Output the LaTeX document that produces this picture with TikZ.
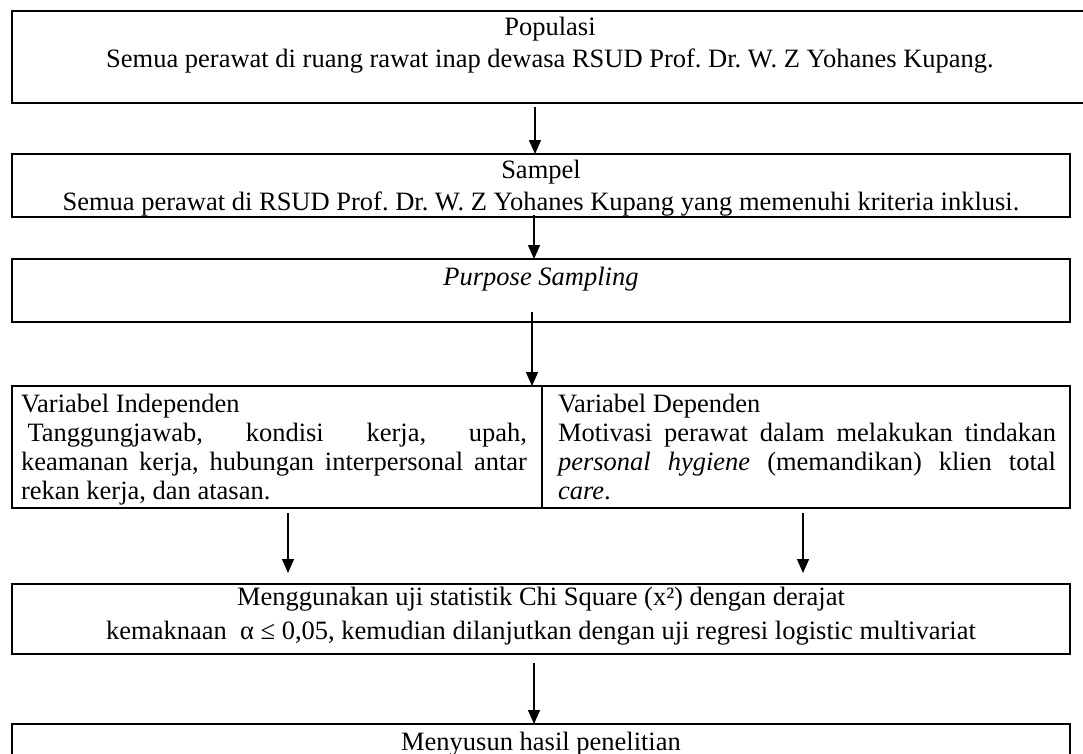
\documentclass[tikz,border=0pt]{standalone}
\usepackage{fontspec}
\setmainfont{Liberation Serif}
\usetikzlibrary{arrows.meta}
\frenchspacing
\tikzset{
  box/.style={draw=black, line width=2pt, rectangle, inner sep=0pt, outer sep=0pt, anchor=north west},
  txt/.style={inner sep=0pt, outer sep=0pt, anchor=base},
  para/.style={inner sep=0pt, outer sep=0pt, anchor=base west},
  arr/.style={line width=1.3pt, -{Triangle[length=14pt,width=12pt]}}
}
\newcommand{\fs}{\fontsize{26.5}{32}\selectfont\frenchspacing}
\begin{document}
\begin{tikzpicture}[x=1pt,y=-1pt]
\useasboundingbox (0,0) rectangle (1083,753);
\fill[white] (0,0) rectangle (1083,753);
% boxes
\node[box, minimum width=1076pt, minimum height=92pt] (b1) at (12,11) {};
\node[box, minimum width=1058pt, minimum height=63pt] (b2) at (12,154) {};
\node[box, minimum width=1058pt, minimum height=63pt] (b3) at (12,259) {};
\node[box, minimum width=530pt, minimum height=122pt] (b4l) at (12,386) {};
\node[box, minimum width=528pt, minimum height=122pt] (b4r) at (542,386) {};
\node[box, minimum width=1058pt, minimum height=70pt] (b5) at (12,584) {};
\node[box, minimum width=1058pt, minimum height=70pt] (b6) at (12,724) {};
% texts
\node[txt] (t1a) at (550,35) {\fs Populasi};
\node[txt] (t1b) at (550,67) {\fs Semua perawat di ruang rawat inap dewasa RSUD Prof. Dr. W. Z Yohanes Kupang.};
\node[txt] (t2a) at (541,178) {\fs Sampel};
\node[txt] (t2b) at (541,210) {\fs Semua perawat di RSUD Prof. Dr. W. Z Yohanes Kupang yang memenuhi kriteria inklusi.};
\node[txt] (t3) at (541,285) {\fs\itshape Purpose Sampling};
\node[para] (t4l) at (21,412) {\parbox[t]{506pt}{\fs\baselineskip=29pt\parindent=0pt\hyphenpenalty=10000
Variabel Independen\par
\leavevmode\kern6.5pt Tanggungjawab, kondisi kerja, upah,\linebreak
keamanan kerja, hubungan interpersonal antar\linebreak
rekan kerja, dan atasan.}};
\node[para] (t4r) at (558,412) {\parbox[t]{498pt}{\fs\baselineskip=29pt\parindent=0pt\hyphenpenalty=10000
Variabel Dependen\par
Motivasi perawat dalam melakukan tindakan\linebreak
\textit{personal hygiene} (memandikan) klien total\linebreak
\textit{care}.}};
\node[txt] (t5a) at (541,605) {\fs Menggunakan uji statistik Chi Square (x²) dengan derajat};
\node[txt] (t5b) at (541,639) {\fs kemaknaan \ α ≤ 0,05, kemudian dilanjutkan dengan uji regresi logistic multivariat};
\node[txt] (t6) at (541,750) {\fs Menyusun hasil penelitian};
% arrow start coordinates
\coordinate (s1) at (535,107);
\coordinate (s2) at (534,215);
\coordinate (s3) at (532,312);
\coordinate (s4) at (288,513);
\coordinate (s5) at (803,513);
\coordinate (s6) at (534,663);
\coordinate (e4) at (288,573);
\coordinate (e5) at (803,573);
\draw[arr] (s1) -- (s1 |- b2.north);
\draw[arr] (s2) -- (s2 |- b3.north);
\draw[arr] (s3) -- (s3 |- b4l.north);
\draw[arr] (s4) -- (e4);
\draw[arr] (s5) -- (e5);
\draw[arr] (s6) -- (s6 |- b6.north);
\end{tikzpicture}
\end{document}
